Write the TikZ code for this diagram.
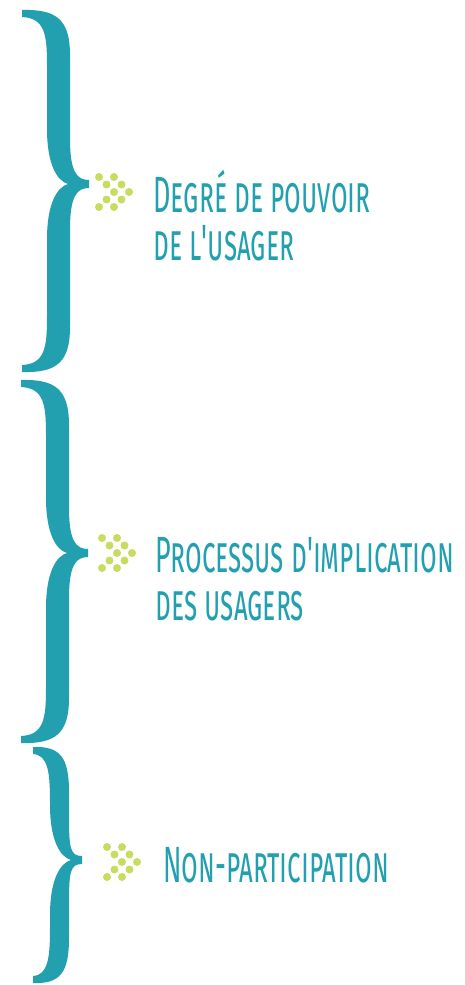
\documentclass[tikz,border=0pt]{standalone}
\usepackage{fontspec}
\newfontfamily\labelfont[FakeStretch=0.53,Letters=SmallCaps]{Fira Sans}
\definecolor{braceteal}{RGB}{35,160,176}
\definecolor{dotgreen}{RGB}{200,221,95}

% #1 hook x, #2 stem left, #3 stem width, #4 tip x, #5 top, #6 middle, #7 bottom
\newcommand{\curlybrace}[7]{%
\fill[braceteal] (#1,#5) .. controls (#2+10,#5-1) and (#2+#3,#5+10) .. (#2+#3,#5+45)
  -- (#2+#3,#6-45) .. controls (#2+#3,#6-12) and (#4-12,#6-4) .. (#4,#6-4)
  -- (#4,#6+4) .. controls (#4-12,#6+4) and (#2+#3,#6+12) .. (#2+#3,#6+45)
  -- (#2+#3,#7-45) .. controls (#2+#3,#7-10) and (#2+10,#7+1) .. (#1,#7)
  -- (#1,#7-7) .. controls (#2-2,#7-8) and (#2,#7-25) .. (#2,#7-55)
  -- (#2,#6+55) .. controls (#2,#6+20) and (#2+10,#6+3) .. (#2+21,#6)
  .. controls (#2+10,#6-3) and (#2,#6-20) .. (#2,#6-55)
  -- (#2,#5+55) .. controls (#2,#5+25) and (#2-2,#5+8) .. (#1,#5+7) -- cycle;}

% double chevron of dots, #1 = coordinate name
\newcommand{\dotarrow}[1]{%
\foreach \dx/\dy in {0/-15,15/-15,7.5/-7.5,22.5/-7.5,15/0,30/0,7.5/7.5,22.5/7.5,0/15,15/15}
  \fill[dotgreen] ($(#1)+(\dx,\dy)$) circle (0.08cm);}

\usetikzlibrary{calc}

\begin{document}
\begin{tikzpicture}[x=0.02cm,y=-0.02cm,
  levelname/.style={anchor=base west,align=left,inner sep=0pt,text=braceteal,
    font=\labelfont\fontsize{29}{27.3}\selectfont}]
\useasboundingbox (0,0) rectangle (465,985);

\curlybrace{22}{47}{23}{89}{10}{184}{372}
\curlybrace{21}{46}{23}{88}{380}{553}{743}
\curlybrace{33}{50}{19}{82}{747}{860}{983}

\coordinate (arrow1) at (99,192);
\coordinate (arrow2) at (102,553);
\coordinate (arrow3) at (107,862);
\dotarrow{arrow1}
\dotarrow{arrow2}
\dotarrow{arrow3}

% base of a two-line node is the base of its last line
\node[levelname] (pouvoir) at (153,260) {Degré de pouvoir\\de l'usager};
\node[levelname] (processus) at (155,620) {Processus d'implication\\des usagers};
\node[levelname] (nonpart) at (163,882) {Non-participation};
\end{tikzpicture}
\end{document}
